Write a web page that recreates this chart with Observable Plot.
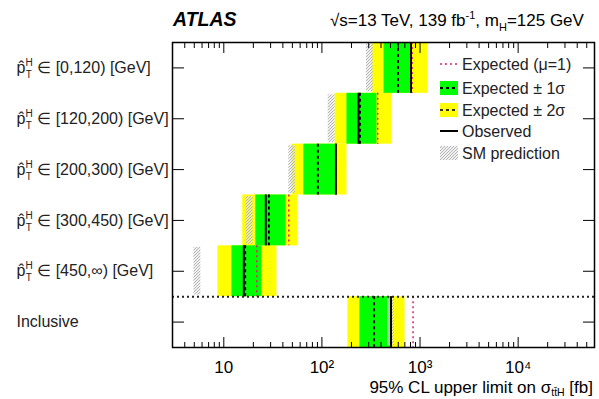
<!DOCTYPE html>
<html><head><meta charset="utf-8">
<script src="https://cdn.jsdelivr.net/npm/d3@7"></script>
<script src="https://cdn.jsdelivr.net/npm/@observablehq/plot@0.6"></script>
<style>body{margin:0;background:#fff} #chart{width:599px;height:399px;overflow:hidden}</style>
</head><body><div id="chart"></div>
<script>
// ---- data (fb) ----
const binRanges = ["[0,120)", "[120,200)", "[200,300)", "[300,450)", "[450,∞)", "Inclusive"];
const expected   = [597, 244, 91, 28.8, 16.5, 340];
const observed   = [809, 236, 139, 26.8, 16.0, 506];
const expectedMu1 = [830, 370, 140, 46, 21.7, 849];
const sigma1Lo   = [430, 180, 65.5, 21.2, 12.1, 244];
const sigma1Hi   = [828, 364, 142, 43, 24.4, 506];
const sigma2Lo   = [324, 136, 49.4, 15.6, 8.7, 184];
const sigma2Hi   = [1208, 518, 180, 56.9, 34.8, 703];
const smPrediction = [309, 126, 50, 18.4, 5.4, 507];
const smUncertainty = 0.08;
const majorTicks = [10, 100, 1000, 10000];
const majorTickLabels = ["10", "10²", "10³", "10⁴"];

const rows = binRanges.map((b, i) => ({
  i, bin: b, exp: expected[i], obs: observed[i], mu1: expectedMu1[i],
  lo1: sigma1Lo[i], hi1: sigma1Hi[i], lo2: sigma2Lo[i], hi2: sigma2Hi[i],
  sm: smPrediction[i],
  label: b === "Inclusive" ? "Inclusive" : "p̂ ∈ " + b + " [GeV]"
}));
const separator = binRanges.indexOf("Inclusive") - 0.5;
const minorTicks = [];
for (const d of [1, 10, 100, 1000, 10000]) for (let m = 2; m <= 9; m++) { const v = d * m; if (v >= 3 && v <= 60000) minorTicks.push(v); }

const font = "'Liberation Sans', Arial, Helvetica, sans-serif";

const svg = Plot.plot({
  width: 599, height: 399,
  marginLeft: 172, marginRight: 5, marginTop: 42, marginBottom: 52,
  style: {fontFamily: font, background: "white", color: "black"},
  x: {type: "log", domain: [3, 60000]},
  y: {domain: [-0.5, 5.5], reverse: true},
  marks: [
    Plot.rect(rows, {x1: "lo2", x2: "hi2", y1: d => d.i - 0.5, y2: d => d.i + 0.5, fill: "#ffff00"}),
    Plot.rect(rows, {x1: "lo1", x2: "hi1", y1: d => d.i - 0.5, y2: d => d.i + 0.5, fill: "#00ff00"}),
    Plot.rect(rows, {x1: d => d.sm * (1 - smUncertainty), x2: d => d.sm * (1 + smUncertainty), y1: d => d.i - 0.47, y2: d => d.i + 0.47, fill: "url(#smhatch)"}),
    Plot.ruleX(rows, {x: "mu1", y1: d => d.i - 0.5, y2: d => d.i + 0.5, stroke: "#e0206e", strokeWidth: 1.5, strokeDasharray: "2,3"}),
    Plot.ruleX(rows, {x: "obs", y1: d => d.i - 0.5, y2: d => d.i + 0.5, stroke: "black", strokeWidth: 2}),
    Plot.ruleX(rows, {x: "exp", y1: d => d.i - 0.5, y2: d => d.i + 0.5, stroke: "black", strokeWidth: 2, strokeDasharray: "3,3"}),
    Plot.ruleY([separator], {stroke: "#222", strokeWidth: 2, strokeDasharray: "2,3"}),
    Plot.frame({stroke: "black", strokeWidth: 1.5}),
    Plot.axisX({anchor: "bottom", ticks: majorTicks, tickSize: -10, tickFormat: () => "", label: null}),
    Plot.axisX({anchor: "bottom", ticks: minorTicks, tickSize: -5, tickFormat: () => "", label: null}),
    Plot.axisX({anchor: "top", ticks: majorTicks, tickSize: -10, tickFormat: () => "", label: null}),
    Plot.axisX({anchor: "top", ticks: minorTicks, tickSize: -5, tickFormat: () => "", label: null}),
    Plot.axisX({anchor: "bottom", ticks: majorTicks, tickSize: 0, tickPadding: 13, tickFormat: d => majorTickLabels[majorTicks.indexOf(d)], fontSize: 17, label: null}),
    Plot.axisY({anchor: "left", ticks: rows.map(d => d.i), tickSize: -12, tickFormat: () => "", label: null}),
    Plot.axisY({anchor: "right", ticks: rows.map(d => d.i), tickSize: -12, tickFormat: () => "", label: null}),
    Plot.text(rows, {y: "i", text: "label", frameAnchor: "left", dx: -156, textAnchor: "start", fontSize: 16, fill: "#222"})
  ]
});
document.getElementById("chart").appendChild(svg);

const s = d3.select(svg);
const defs = s.insert("defs", ":first-child");
const pat = defs.append("pattern").attr("id", "smhatch").attr("patternUnits", "userSpaceOnUse").attr("width", 3).attr("height", 3);
pat.append("rect").attr("width", 3).attr("height", 3).attr("fill", "#e6e6e6").attr("fill-opacity", 0.6);
pat.append("path").attr("d", "M-1,1 L1,-1 M0,3 L3,0 M2,4 L4,2").attr("stroke", "#b0b0b0").attr("stroke-width", 0.9);

// y labels with super/subscripts
s.selectAll("text").each(function () {
  const t = this.textContent;
  if (!t.startsWith("p̂ ")) return;
  const rest = t.slice(2);
  const el = d3.select(this);
  el.text("");
  el.append("tspan").text("p̂");
  el.append("tspan").attr("font-size", 10).attr("dy", -7).text("H");
  el.append("tspan").attr("font-size", 10).attr("dx", -7).attr("dy", 12).text("T");
  el.append("tspan").attr("dx", 1).attr("dy", -5).text(rest);
});

// header
const head = s.append("g").attr("font-family", font).attr("fill", "black").attr("text-anchor", "start");
head.append("text").attr("x", 173).attr("y", 26).attr("font-size", 19.5).attr("font-weight", "bold").attr("font-style", "italic").text("ATLAS");
const info = head.append("text").attr("x", 330).attr("y", 26).attr("font-size", 17);
info.append("tspan").text("√s=13 TeV, 139 fb");
info.append("tspan").attr("font-size", 11).attr("dy", -7).text("-1");
info.append("tspan").attr("dy", 7).text(", m");
info.append("tspan").attr("font-size", 11).attr("dy", 5).text("H");
info.append("tspan").attr("dy", -5).text("=125 GeV");

// x label
const xl = head.append("text").attr("x", 593).attr("y", 393).attr("font-size", 17).attr("text-anchor", "end");
xl.append("tspan").text("95% CL upper limit on σ");
xl.append("tspan").attr("font-size", 10.5).attr("dy", 3).text("tt̄H");
xl.append("tspan").attr("dy", -3).text(" [fb]");

// legend
const lg = s.append("g").attr("font-family", font).attr("font-size", 16).attr("fill", "#222").attr("text-anchor", "start");
const lx = 440, lw = 18, tx = 462;
const ly = [64, 88, 110, 131, 153];
const legendLabels = ["Expected (μ=1)", "Expected ± 1σ", "Expected ± 2σ", "Observed", "SM prediction"];
lg.append("line").attr("x1", lx).attr("x2", lx + lw).attr("y1", ly[0]).attr("y2", ly[0]).attr("stroke", "#e0206e").attr("stroke-width", 1.5).attr("stroke-dasharray", "2,3");
lg.append("rect").attr("x", lx).attr("y", ly[1] - 7).attr("width", lw).attr("height", 14).attr("fill", "#00ff00");
lg.append("line").attr("x1", lx).attr("x2", lx + lw).attr("y1", ly[1]).attr("y2", ly[1]).attr("stroke", "black").attr("stroke-width", 2).attr("stroke-dasharray", "3,3");
lg.append("rect").attr("x", lx).attr("y", ly[2] - 7).attr("width", lw).attr("height", 14).attr("fill", "#ffff00");
lg.append("line").attr("x1", lx).attr("x2", lx + lw).attr("y1", ly[2]).attr("y2", ly[2]).attr("stroke", "#333").attr("stroke-width", 2).attr("stroke-dasharray", "3,3");
lg.append("line").attr("x1", lx).attr("x2", lx + lw).attr("y1", ly[3]).attr("y2", ly[3]).attr("stroke", "black").attr("stroke-width", 2);
lg.append("rect").attr("x", lx).attr("y", ly[4] - 7).attr("width", lw).attr("height", 14).attr("fill", "url(#smhatch)");
legendLabels.forEach((t, k) => lg.append("text").attr("x", tx).attr("y", ly[k]).attr("dy", "0.35em").text(t));
</script>
</body></html>
